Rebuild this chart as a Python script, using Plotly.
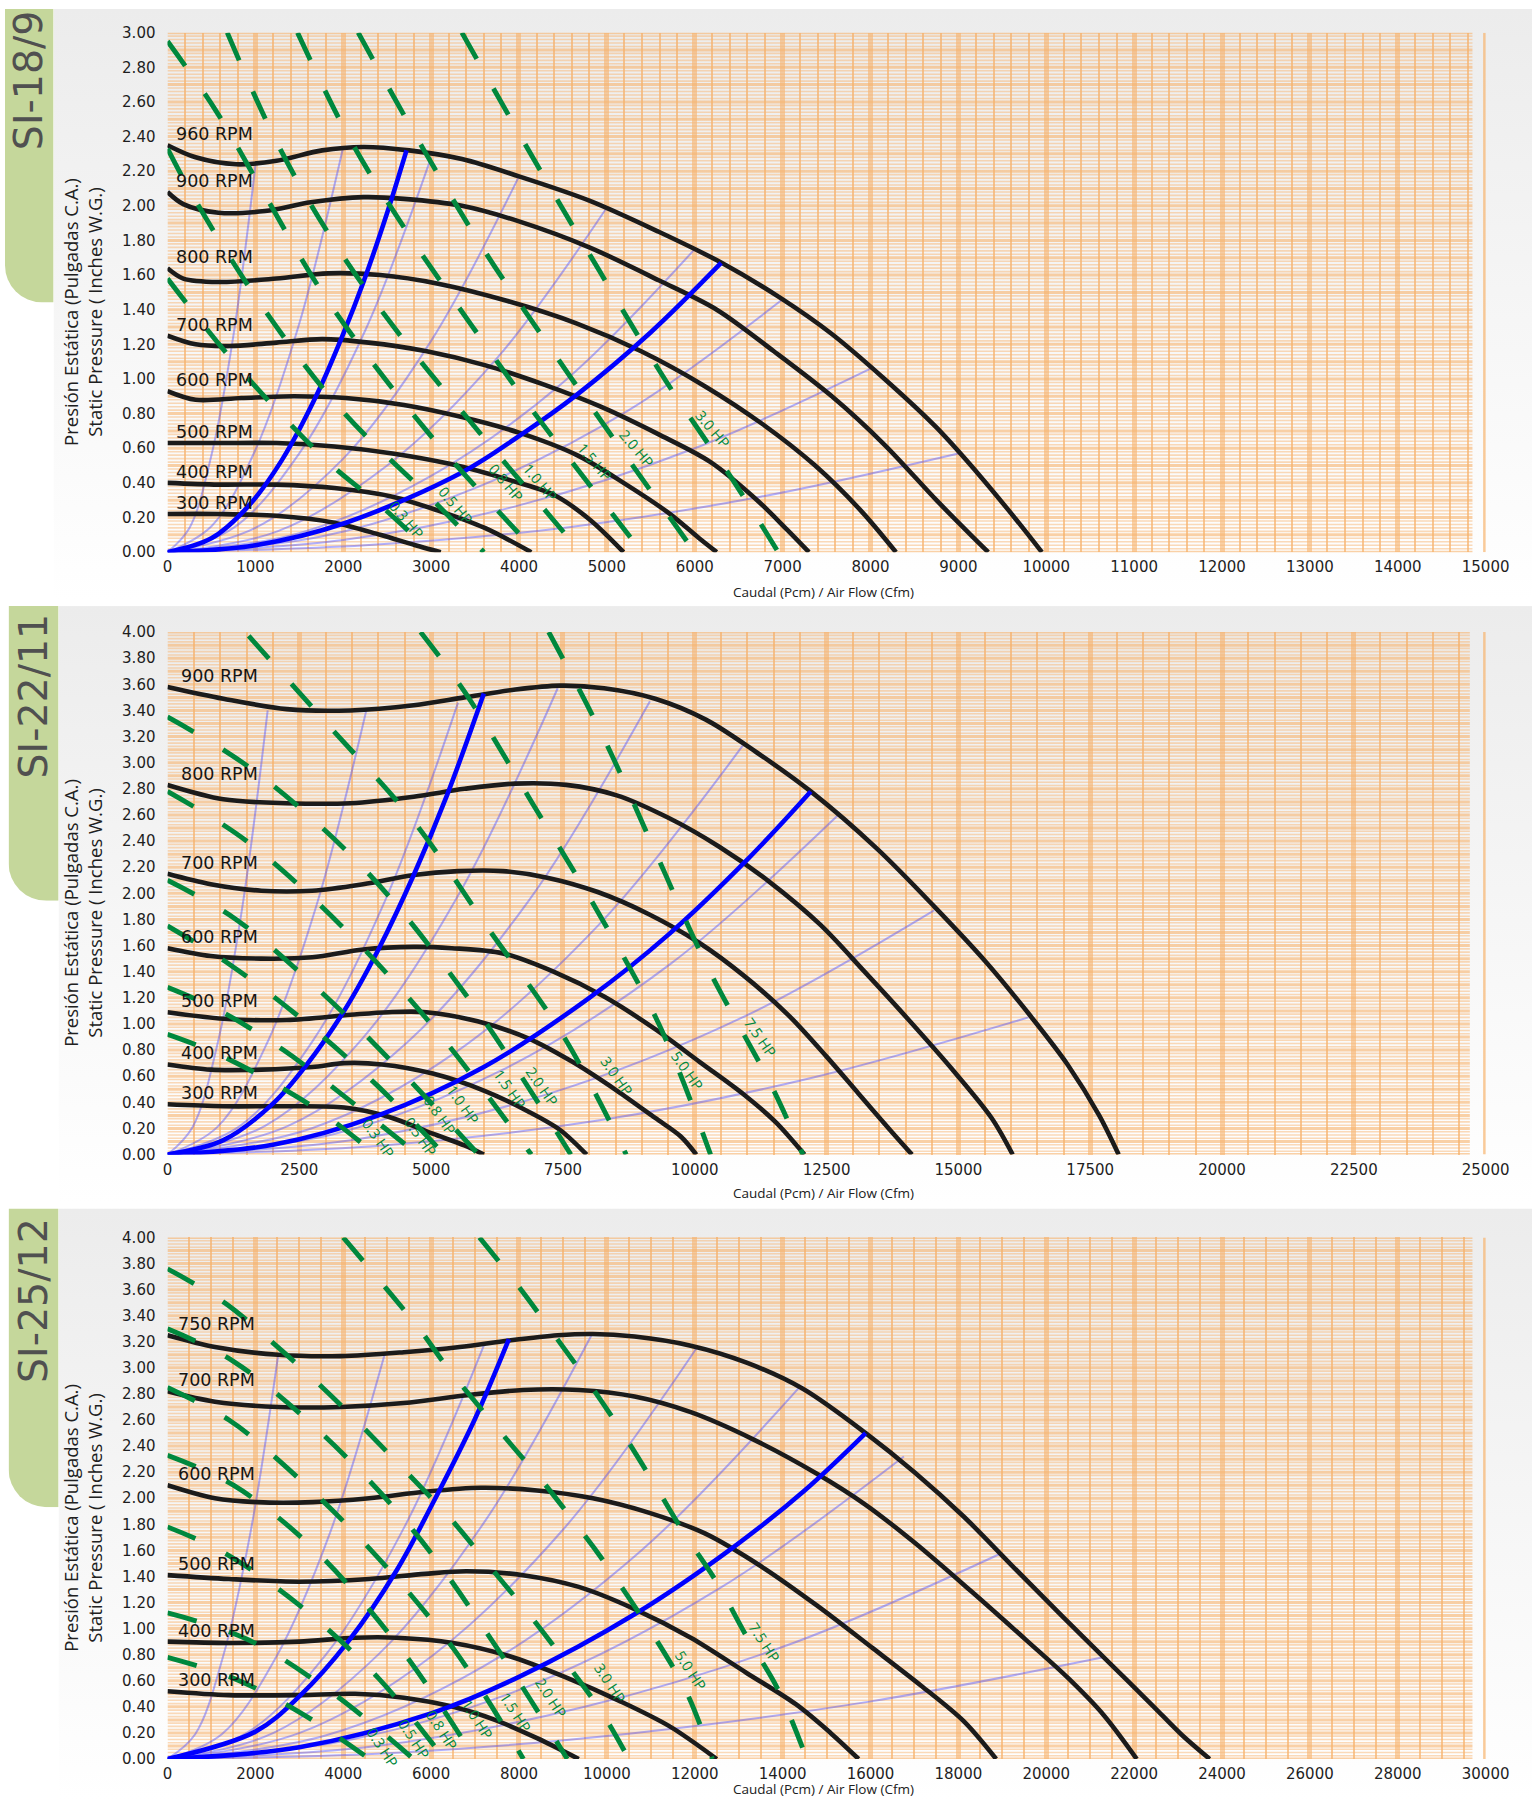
import base64
import math
import plotly.graph_objects as go

W, H = 1533, 1800          # target picture size
# The photographed page comes out slightly shrunk and offset; these factors map the
# wanted picture position to the figure pixel that lands there.
SX, BX = 0.982, 5.5
SY, BY = 0.991, 7.4
FW = int(math.ceil(W / SX - BX))
FH = int(math.ceil(H / SY - BY))

# ===================== DATA =====================
# ---------- Panel 1 : SI-18/9 ----------
S1_NAME = "SI-18/9"
S1_RPM_LABELS = ["960 RPM", "900 RPM", "800 RPM", "700 RPM", "600 RPM", "500 RPM", "400 RPM", "300 RPM"]
S1_RPM_Q = [
    [0, 320, 780, 1240, 1760, 2230, 2750, 3350, 4000, 4800, 5590, 6310, 6970, 7560, 8160, 8750, 9280, 9670, 9950],
    [0, 180, 580, 1110, 1630, 2230, 2690, 3350, 4000, 4800, 5590, 6250, 6900, 7560, 8160, 8750, 9140, 9340],
    [0, 180, 580, 1240, 1830, 2420, 3080, 3870, 4660, 5390, 6110, 6770, 7370, 7890, 8290],
    [0, 320, 710, 1240, 1760, 2290, 2950, 3610, 4270, 4930, 5590, 6180, 6710, 7050, 7300],
    [0, 320, 840, 1440, 2030, 2690, 3350, 4000, 4660, 5190, 5720, 6050, 6250],
    [0, 580, 1240, 1900, 2560, 3210, 3870, 4400, 4800, 5190],
    [0, 580, 1240, 1900, 2560, 3080, 3610, 4140],
    [0, 580, 1240, 1900, 2420, 2820, 3110],
]
S1_RPM_P = [
    [2.35, 2.28, 2.24, 2.26, 2.32, 2.34, 2.32, 2.27, 2.17, 2.03, 1.85, 1.67, 1.47, 1.26, 1.00, 0.72, 0.42, 0.18, 0.0],
    [2.08, 2.01, 1.96, 1.97, 2.02, 2.05, 2.04, 2.00, 1.91, 1.76, 1.57, 1.40, 1.16, 0.90, 0.62, 0.30, 0.10, 0.0],
    [1.64, 1.58, 1.56, 1.58, 1.61, 1.60, 1.55, 1.45, 1.32, 1.16, 0.96, 0.74, 0.50, 0.24, 0.0],
    [1.25, 1.20, 1.19, 1.21, 1.23, 1.21, 1.16, 1.08, 0.97, 0.84, 0.68, 0.52, 0.30, 0.13, 0.0],
    [0.93, 0.88, 0.89, 0.90, 0.89, 0.85, 0.78, 0.69, 0.56, 0.40, 0.22, 0.08, 0.0],
    [0.63, 0.63, 0.63, 0.61, 0.57, 0.51, 0.42, 0.33, 0.19, 0.0],
    [0.40, 0.39, 0.39, 0.37, 0.32, 0.24, 0.14, 0.0],
    [0.22, 0.22, 0.21, 0.17, 0.10, 0.04, 0.0],
]
S1_SYS_Q = [[0, 500, 910, 1300, 1700, 2000, 2230, 2500, 2720],
            [0, 1000, 2030, 3350, 4000, 4660, 5500, 6300]]
S1_SYS_P = [[0, 0.08, 0.26, 0.53, 0.91, 1.26, 1.56, 1.96, 2.32],
            [0, 0.04, 0.17, 0.46, 0.67, 0.91, 1.27, 1.67]]
S1_FAN_Q = [[0, 250, 500, 750, 1000], [0, 500, 1000, 1500, 2000], [0, 750, 1500, 2250, 3000],
            [0, 1000, 2000, 3000, 4000], [0, 1250, 2500, 3750, 5000], [0, 1500, 3000, 4500, 6000],
            [0, 1750, 3500, 5250, 7000], [0, 2000, 4000, 6000, 8000], [0, 2250, 4500, 6750, 9000]]
S1_FAN_P = [[0, 0.14, 0.56, 1.25, 2.23], [0, 0.15, 0.59, 1.32, 2.34], [0, 0.14, 0.57, 1.28, 2.28],
            [0, 0.14, 0.54, 1.22, 2.17], [0, 0.12, 0.50, 1.12, 1.99], [0, 0.11, 0.44, 0.98, 1.75],
            [0, 0.09, 0.37, 0.82, 1.46], [0, 0.07, 0.27, 0.60, 1.06], [0, 0.04, 0.14, 0.32, 0.57]]
S1_HP_LABELS = ["0.3 HP", "0.5 HP", "0.8 HP", "1.0 HP", "1.5 HP", "2.0 HP", "3.0 HP"]
S1_HP_Q = [[0, 820, 1830, 2400, 3000],
           [0, 330, 1090, 1980, 3020, 3600],
           [0, 550, 1100, 1800, 2950, 4200],
           [680, 1270, 1920, 2650, 3420, 4200, 4700],
           [1480, 2070, 2750, 3460, 4180, 4940, 5400],
           [2170, 2920, 3620, 4370, 5140, 6000],
           [3350, 4190, 4920, 5670, 6480, 6950]]
S1_HP_P = [[1.58, 1.06, 0.52, 0.28, 0.0],
           [2.33, 2.02, 1.41, 0.82, 0.30, 0.0],
           [2.95, 2.55, 2.07, 1.47, 0.70, 0.0],
           [3.0, 2.34, 1.77, 1.25, 0.77, 0.30, 0.0],
           [3.0, 2.39, 1.83, 1.31, 0.80, 0.30, 0.0],
           [3.0, 2.32, 1.73, 1.17, 0.61, 0.0],
           [3.0, 2.25, 1.62, 0.99, 0.38, 0.0]]

# ---------- Panel 2 : SI-22/11 ----------
S2_NAME = "SI-22/11"
S2_RPM_LABELS = ["900 RPM", "800 RPM", "700 RPM", "600 RPM", "500 RPM", "400 RPM", "300 RPM"]
S2_RPM_Q = [
    [0, 1060, 2260, 3470, 4670, 5630, 6600, 7440, 8280, 9250, 10210, 11170, 12200, 13460, 14540, 15510, 16350, 17070, 17670, 18040],
    [0, 1060, 2260, 3470, 4670, 5630, 6600, 7560, 8520, 9490, 10450, 11410, 12380, 13220, 14060, 14910, 15630, 16030],
    [0, 820, 1780, 2745, 3710, 4670, 5510, 6360, 7200, 8160, 9130, 10090, 10930, 11770, 12500, 13100, 13700, 14120],
    [0, 820, 1780, 2745, 3710, 4670, 5390, 6360, 7320, 8280, 9250, 10090, 10930, 11530, 12080],
    [0, 1060, 2260, 3470, 4190, 4910, 5880, 6840, 7680, 8520, 9250, 9730, 10030],
    [0, 820, 1780, 2745, 3350, 4070, 5030, 6000, 6840, 7440, 7950],
    [0, 1060, 2260, 3350, 4190, 5030, 5630, 6000],
]
S2_RPM_P = [
    [3.58, 3.49, 3.41, 3.40, 3.44, 3.50, 3.56, 3.59, 3.57, 3.49, 3.33, 3.08, 2.78, 2.34, 1.90, 1.48, 1.07, 0.69, 0.30, 0.0],
    [2.83, 2.72, 2.69, 2.69, 2.74, 2.80, 2.84, 2.83, 2.75, 2.58, 2.36, 2.09, 1.76, 1.40, 1.03, 0.64, 0.28, 0.0],
    [2.15, 2.07, 2.02, 2.02, 2.07, 2.14, 2.17, 2.17, 2.12, 2.01, 1.84, 1.62, 1.37, 1.07, 0.75, 0.47, 0.19, 0.0],
    [1.58, 1.52, 1.50, 1.51, 1.57, 1.59, 1.58, 1.54, 1.40, 1.21, 0.96, 0.71, 0.46, 0.25, 0.0],
    [1.09, 1.04, 1.03, 1.07, 1.09, 1.09, 1.02, 0.89, 0.71, 0.49, 0.28, 0.14, 0.0],
    [0.69, 0.65, 0.65, 0.67, 0.70, 0.69, 0.62, 0.49, 0.33, 0.19, 0.0],
    [0.385, 0.37, 0.37, 0.36, 0.29, 0.16, 0.07, 0.0],
]
S2_SYS_Q = [[0, 1060, 2000, 2625, 3350, 4000, 4670, 5300, 6000],
            [0, 2000, 4000, 6000, 8000, 9490, 11000, 12200]]
S2_SYS_P = [[0, 0.11, 0.39, 0.68, 1.10, 1.57, 2.14, 2.75, 3.53],
            [0, 0.075, 0.30, 0.67, 1.20, 1.68, 2.26, 2.78]]
S2_FAN_Q = [[0, 475, 950, 1425, 1900], [0, 943, 1885, 2828, 3770], [0, 1378, 2755, 4133, 5510],
            [0, 1850, 3700, 5550, 7400], [0, 2288, 4575, 6863, 9150], [0, 2728, 5455, 8183, 10910],
            [0, 3180, 6360, 9540, 12720], [0, 3635, 7270, 10905, 14540], [0, 4083, 8165, 12248, 16330]]
S2_FAN_P = [[0, 0.21, 0.85, 1.91, 3.40], [0, 0.21, 0.85, 1.91, 3.40], [0, 0.22, 0.87, 1.95, 3.46],
            [0, 0.22, 0.89, 2.01, 3.57], [0, 0.22, 0.87, 1.95, 3.47], [0, 0.20, 0.78, 1.76, 3.13],
            [0, 0.16, 0.65, 1.46, 2.60], [0, 0.12, 0.47, 1.05, 1.87], [0, 0.07, 0.26, 0.59, 1.05]]
S2_HP_LABELS = ["0.3 HP", "0.5 HP", "0.8 HP", "1.0 HP", "1.5 HP", "2.0 HP", "3.0 HP", "5.0 HP", "7.5 HP"]
S2_HP_Q = [[0, 900, 2000, 3000, 3950],
           [0, 1000, 2200, 3500, 4750],
           [0, 1200, 2600, 4000, 5250],
           [0, 1300, 2900, 4400, 5900],
           [0, 1500, 3300, 5100, 6900],
           [0, 1600, 3700, 5700, 7650],
           [1540, 3000, 4670, 6050, 7520, 8700],
           [4800, 5640, 6920, 8130, 9330, 10300],
           [7230, 8260, 9250, 10250, 11450, 12050]]
S2_HP_P = [[0.92, 0.78, 0.55, 0.30, 0.0],
           [1.28, 1.10, 0.80, 0.40, 0.0],
           [1.75, 1.45, 1.02, 0.52, 0.0],
           [2.10, 1.80, 1.25, 0.65, 0.0],
           [2.78, 2.40, 1.75, 0.95, 0.0],
           [3.35, 2.95, 2.20, 1.20, 0.0],
           [3.97, 3.31, 2.55, 1.75, 0.90, 0.0],
           [4.0, 3.54, 2.69, 1.88, 0.99, 0.0],
           [4.0, 3.20, 2.32, 1.43, 0.53, 0.0]]

# ---------- Panel 3 : SI-25/12 ----------
S3_NAME = "SI-25/12"
S3_RPM_LABELS = ["750 RPM", "700 RPM", "600 RPM", "500 RPM", "400 RPM", "300 RPM"]
S3_RPM_Q = [
    [0, 1080, 2520, 3950, 5380, 6650, 7770, 8880, 9680, 10630, 11910, 13180, 14460, 15890, 17000, 18120, 19230, 20350, 21460, 22420, 23100, 23720],
    [0, 1080, 2520, 3950, 5380, 6810, 8090, 9360, 10630, 11910, 13340, 14770, 15890, 17000, 18280, 19550, 20500, 21300, 22060],
    [0, 1080, 2040, 3310, 4590, 5860, 7130, 8410, 9680, 10950, 12230, 13500, 14770, 16050, 17160, 18120, 18860],
    [0, 1400, 2990, 4590, 5860, 6810, 8090, 9360, 10630, 11910, 13180, 14300, 15090, 15730],
    [0, 1400, 2990, 4270, 5220, 6500, 7770, 9040, 10320, 11430, 12500],
    [0, 1400, 2990, 4270, 5380, 6500, 7450, 8410, 9360],
]
S3_RPM_P = [
    [3.25, 3.16, 3.10, 3.09, 3.12, 3.16, 3.21, 3.25, 3.26, 3.24, 3.17, 3.04, 2.84, 2.50, 2.20, 1.86, 1.48, 1.10, 0.73, 0.41, 0.18, 0.0],
    [2.82, 2.74, 2.70, 2.70, 2.73, 2.79, 2.83, 2.83, 2.78, 2.66, 2.45, 2.19, 1.95, 1.66, 1.29, 0.91, 0.62, 0.34, 0.0],
    [2.10, 2.00, 1.97, 1.97, 2.00, 2.05, 2.08, 2.06, 2.00, 1.89, 1.73, 1.48, 1.18, 0.85, 0.56, 0.29, 0.0],
    [1.41, 1.38, 1.36, 1.38, 1.42, 1.44, 1.41, 1.32, 1.15, 0.93, 0.66, 0.42, 0.20, 0.0],
    [0.90, 0.89, 0.90, 0.93, 0.93, 0.89, 0.79, 0.63, 0.44, 0.25, 0.0],
    [0.52, 0.49, 0.49, 0.50, 0.47, 0.40, 0.30, 0.16, 0.0],
]
S3_SYS_Q = [[0, 2000, 3000, 4110, 5220, 6020, 7000, 7770],
            [0, 3000, 6000, 8000, 10630, 12860, 14500, 15890]]
S3_SYS_P = [[0, 0.21, 0.48, 0.90, 1.45, 1.95, 2.61, 3.22],
            [0, 0.09, 0.35, 0.63, 1.11, 1.62, 2.06, 2.50]]
S3_FAN_Q = [[0, 630, 1260, 1890, 2520], [0, 1235, 2470, 3705, 4940], [0, 1803, 3605, 5408, 7210],
            [0, 2413, 4825, 7238, 9650], [0, 3010, 6020, 9030, 12040], [0, 3595, 7190, 10785, 14380],
            [0, 4190, 8380, 12570, 16760], [0, 4748, 9495, 14243, 18990], [0, 5325, 10650, 15975, 21300]]
S3_FAN_P = [[0, 0.19, 0.78, 1.74, 3.10], [0, 0.19, 0.78, 1.74, 3.10], [0, 0.20, 0.80, 1.79, 3.18],
            [0, 0.20, 0.81, 1.83, 3.25], [0, 0.20, 0.79, 1.77, 3.15], [0, 0.18, 0.71, 1.60, 2.85],
            [0, 0.15, 0.58, 1.31, 2.32], [0, 0.10, 0.40, 0.89, 1.58], [0, 0.05, 0.20, 0.44, 0.78]]
S3_HP_LABELS = ["0.3 HP", "0.5 HP", "0.8 HP", "1.0 HP", "1.5 HP", "2.0 HP", "3.0 HP", "5.0 HP", "7.5 HP"]
S3_HP_Q = [[0, 1500, 3000, 4600],
           [0, 1800, 3700, 5600],
           [0, 1300, 3000, 4800, 6300],
           [0, 1500, 3300, 5300, 7000],
           [0, 1400, 2500, 4500, 6500, 8100],
           [0, 1500, 3500, 5600, 7500, 9100],
           [0, 1300, 2300, 3430, 4430, 5440, 6500, 7400, 8300, 9200, 9900, 10500],
           [4000, 5000, 5730, 6400, 7800, 8510, 9230, 9900, 11150, 11830, 12400],
           [7100, 8000, 8830, 9600, 10340, 11060, 11760, 12510, 13180, 13900, 14550]]
S3_HP_P = [[0.78, 0.62, 0.36, 0.0],
           [1.12, 0.92, 0.52, 0.0],
           [1.78, 1.58, 1.18, 0.62, 0.0],
           [2.33, 2.10, 1.62, 0.85, 0.0],
           [2.85, 2.60, 2.30, 1.65, 0.85, 0.0],
           [3.30, 3.05, 2.50, 1.75, 0.85, 0.0],
           [3.76, 3.50, 3.22, 2.88, 2.55, 2.20, 1.82, 1.45, 1.08, 0.68, 0.35, 0.0],
           [4.0, 3.60, 3.30, 2.99, 2.42, 2.14, 1.83, 1.53, 0.90, 0.50, 0.0],
           [4.0, 3.62, 3.24, 2.88, 2.51, 2.12, 1.73, 1.35, 0.94, 0.53, 0.0]]

# ===================== PLACEMENT / STYLE (picture pixels) =====================
S1_HP_LPOS = [(2720, 0.19), (3280, 0.27), (3850, 0.40), (4240, 0.40), (4870, 0.52), (5340, 0.60), (6210, 0.71)]
S2_HP_LPOS = [(4000, 0.12), (4800, 0.14), (5170, 0.30), (5600, 0.38), (6500, 0.50), (7100, 0.52), (8530, 0.60), (9850, 0.64), (11250, 0.90)]
S3_HP_LPOS = [(4900, 0.09), (5620, 0.15), (6250, 0.22), (7050, 0.30), (7930, 0.36), (8720, 0.47), (10080, 0.58), (11910, 0.68), (13580, 0.89)]

PANELS = [
    dict(name=S1_NAME, rl=S1_RPM_LABELS, rq=S1_RPM_Q, rp=S1_RPM_P, sq=S1_SYS_Q, sp=S1_SYS_P,
         fq=S1_FAN_Q, fp=S1_FAN_P, hl=S1_HP_LABELS, hq=S1_HP_Q, hp=S1_HP_P, lpos=S1_HP_LPOS, lang=50,
         xmax=15000, dtick=1000, minor=200, ymax=3.0, edge=14850, ystep=0.02, ymaj=5,
         top=31, bot=551, ptop=3, pbot=600, pleft=54, tab=(5, 54, 3, 301), tabtxt=(28, 79), lblx=7, xt=591),
    dict(name=S2_NAME, rl=S2_RPM_LABELS, rq=S2_RPM_Q, rp=S2_RPM_P, sq=S2_SYS_Q, sp=S2_SYS_P,
         fq=S2_FAN_Q, fp=S2_FAN_P, hl=S2_HP_LABELS, hq=S2_HP_Q, hp=S2_HP_P, lpos=S2_HP_LPOS, lang=55,
         xmax=25000, dtick=2500, minor=500, ymax=4.0, edge=24700, ystep=0.025, ymaj=4,
         top=631, bot=1154, ptop=605, pbot=1203, pleft=59, tab=(9, 59, 605, 900), tabtxt=(33, 695), lblx=12, xt=1192),
    dict(name=S3_NAME, rl=S3_RPM_LABELS, rq=S3_RPM_Q, rp=S3_RPM_P, sq=S3_SYS_Q, sp=S3_SYS_P,
         fq=S3_FAN_Q, fp=S3_FAN_P, hl=S3_HP_LABELS, hq=S3_HP_Q, hp=S3_HP_P, lpos=S3_HP_LPOS, lang=57,
         xmax=30000, dtick=2000, minor=500, ymax=4.0, edge=29700, ystep=0.025, ymaj=4,
         top=1237, bot=1759, ptop=1208, pbot=1800, pleft=59, tab=(9, 59, 1208, 1507), tabtxt=(34, 1300), lblx=9, xt=1789),
]

X0, X1 = 168, 1487
BLACK = "#1b1b1b"
BLUE = "#0000ff"
FAN = "rgba(70,70,255,0.42)"
GREEN = "#00883d"
GRID_MAJ = "rgba(246,172,95,0.55)"
GRID_MIN = "rgba(246,166,85,0.62)"
HGRID = "rgba(247,182,115,0.5)"
HGRID_MAJ = "rgba(247,178,108,0.6)"
TICKFONT = dict(family="DejaVu Sans", size=15, color="#1e1e1e")


def fx(v):
    return v / SX - BX


def fy(v):
    return v / SY - BY


def px_x(v):
    return min(1.0, max(0.0, fx(v) / FW))


def px_y(v):
    return min(1.0, max(0.0, 1 - fy(v) / FH))


def svg_uri(svg):
    return "data:image/svg+xml;base64," + base64.b64encode(svg.encode("utf-8")).decode("ascii")


fig = go.Figure()
images = []
annotations = []
layout_axes = {}

for i, pn in enumerate(PANELS):
    n = "" if i == 0 else str(i + 1)
    xa, ya = "x" + n, "y" + n

    # background gradient panel
    grad = ('<svg xmlns="http://www.w3.org/2000/svg" width="100" height="100" viewBox="0 0 100 100" '
            'preserveAspectRatio="none"><defs><linearGradient id="g" x1="0" y1="0" x2="0" y2="1">'
            '<stop offset="0" stop-color="#ececec"/><stop offset="1" stop-color="#ffffff"/>'
            '</linearGradient></defs><rect x="0" y="0" width="100" height="100" fill="url(#g)"/></svg>')
    gx0, gy0, gx1, gy1 = px_x(pn["pleft"]), px_y(pn["ptop"]), 1.0, px_y(pn["pbot"])
    images.append(dict(source=svg_uri(grad), xref="paper", yref="paper", x=gx0, y=gy0,
                       sizex=gx1 - gx0, sizey=gy0 - gy1,
                       xanchor="left", yanchor="top", sizing="stretch", layer="below"))
    # green tab with rounded bottom-left corner
    tx0, tx1, ty0, ty1 = pn["tab"]
    ax0, ay0, ax1, ay1 = px_x(tx0), px_y(ty0), px_x(tx1), px_y(ty1)
    tw, th, r = 100, 600, 76
    tab = (f'<svg xmlns="http://www.w3.org/2000/svg" width="{tw}" height="{th}" viewBox="0 0 {tw} {th}" '
           f'preserveAspectRatio="none"><path d="M0 0 H{tw} V{th} H{r} A{r} {r} 0 0 1 0 {th - r} Z" '
           f'fill="#c5d79b"/></svg>')
    images.append(dict(source=svg_uri(tab), xref="paper", yref="paper",
                       x=ax0, y=ay0, sizex=ax1 - ax0, sizey=ay0 - ay1,
                       xanchor="left", yanchor="top", sizing="stretch", layer="below"))
    annotations.append(dict(text=pn["name"], xref="paper", yref="paper",
                            x=px_x(pn["tabtxt"][0]), y=px_y(pn["tabtxt"][1]), textangle=-90,
                            showarrow=False, xanchor="center", yanchor="middle",
                            font=dict(family="DejaVu Sans", size=39.5, color="#505050")))

    # horizontal grid (ends before the right-hand bar, as in the original)
    nlines = int(round(pn["ymax"] / pn["ystep"]))
    gx_min, gy_min, gx_maj, gy_maj = [], [], [], []
    for k in range(nlines + 1):
        v = k * pn["ystep"]
        if k % pn["ymaj"] == 0:
            gx_maj += [0, pn["edge"], None]
            gy_maj += [v, v, None]
        else:
            gx_min += [0, pn["edge"], None]
            gy_min += [v, v, None]
    fig.add_trace(go.Scatter(x=gx_min, y=gy_min, mode="lines", line=dict(color=HGRID, width=1.6),
                             xaxis=xa, yaxis=ya, hoverinfo="skip", showlegend=False))
    fig.add_trace(go.Scatter(x=gx_maj, y=gy_maj, mode="lines", line=dict(color=HGRID_MAJ, width=3),
                             xaxis=xa, yaxis=ya, hoverinfo="skip", showlegend=False))

    # fan-law lines (light purple)
    for q, p in zip(pn["fq"], pn["fp"]):
        fig.add_trace(go.Scatter(x=q, y=p, mode="lines", line=dict(color=FAN, width=2, shape="spline"),
                                 xaxis=xa, yaxis=ya, hoverinfo="skip", showlegend=False))
    # RPM curves
    for lab, q, p in zip(pn["rl"], pn["rq"], pn["rp"]):
        fig.add_trace(go.Scatter(x=q, y=p, mode="lines", name=lab,
                                 line=dict(color=BLACK, width=4.6, shape="spline", smoothing=0.9),
                                 xaxis=xa, yaxis=ya, showlegend=False))
        annotations.append(dict(text=lab, xref=xa, yref=ya, x=0, y=p[0], xanchor="left", yanchor="bottom",
                                xshift=pn["lblx"], yshift=-1, showarrow=False,
                                font=dict(family="DejaVu Sans", size=17.5, color="#151515")))
    # system curves (blue)
    for q, p in zip(pn["sq"], pn["sp"]):
        fig.add_trace(go.Scatter(x=q, y=p, mode="lines", line=dict(color=BLUE, width=4.6, shape="spline"),
                                 xaxis=xa, yaxis=ya, hoverinfo="skip", showlegend=False))
    # HP curves (green dashed)
    for lab, q, p, pos in zip(pn["hl"], pn["hq"], pn["hp"], pn["lpos"]):
        fig.add_trace(go.Scatter(x=q, y=p, mode="lines", name=lab,
                                 line=dict(color=GREEN, width=4.9, dash="30px,34px", shape="spline"),
                                 xaxis=xa, yaxis=ya, showlegend=False))
        annotations.append(dict(text=lab, xref=xa, yref=ya, x=pos[0], y=pos[1], textangle=pn["lang"],
                                showarrow=False, xanchor="center", yanchor="middle",
                                font=dict(family="Open Sans", size=14.5, color=GREEN)))

    # right-hand bar at the end of the scale
    fig.add_shape(type="line", xref=xa, yref=ya, x0=pn["xmax"], x1=pn["xmax"], y0=0, y1=pn["ymax"],
                  line=dict(color="rgba(246,180,110,0.7)", width=5), layer="below")

    # axis titles
    annotations.append(dict(text="Caudal (Pcm) / Air Flow (Cfm)", xref="paper", yref="paper",
                            x=px_x(824), y=px_y(pn["xt"]), showarrow=False,
                            xanchor="center", yanchor="middle",
                            font=dict(family="Liberation Sans Narrow, Open Sans", size=13.5, color="#202020")))
    annotations.append(dict(text="Presión Estática (Pulgadas C.A.)<br>Static Pressure ( Inches W.G.)",
                            xref="paper", yref="paper", x=px_x(83), y=px_y((pn["top"] + pn["bot"]) / 2 + 20),
                            textangle=-90, showarrow=False, xanchor="center", yanchor="middle",
                            font=dict(family="Liberation Sans Narrow, Open Sans", size=18.5, color="#202020")))

    layout_axes["xaxis" + n] = dict(
        domain=[px_x(X0), px_x(X1)], range=[0, pn["xmax"]], anchor=ya,
        tickmode="linear", tick0=0, dtick=pn["dtick"], tickformat="d",
        showgrid=True, gridcolor=GRID_MAJ, gridwidth=5,
        minor=dict(tick0=0, dtick=pn["minor"], showgrid=True, gridcolor=GRID_MIN, gridwidth=2.2),
        zeroline=False, showline=False, ticks="outside", ticklen=1, tickcolor="rgba(0,0,0,0)",
        tickfont=TICKFONT, fixedrange=True)
    layout_axes["yaxis" + n] = dict(
        domain=[px_y(pn["bot"]), px_y(pn["top"])], range=[0, pn["ymax"]], anchor=xa,
        tickmode="linear", tick0=0, dtick=0.2, tickformat=".2f",
        showgrid=False, zeroline=False, showline=False, ticks="outside", ticklen=8,
        tickcolor="rgba(0,0,0,0)", tickfont=TICKFONT, fixedrange=True)

fig.update_layout(
    width=FW, height=FH, autosize=False, margin=dict(l=0, r=0, t=0, b=0),
    paper_bgcolor="#ffffff", plot_bgcolor="rgba(0,0,0,0)",
    showlegend=False, images=images, annotations=annotations, **layout_axes)

# pin the figure to the window's top-left corner so the page never scrolls
PIN = ("var d=document.getElementById('{plot_id}');"
       "var h=document.documentElement,b=document.body;"
       "h.style.margin='0';h.style.padding='0';h.style.overflow='hidden';"
       "b.style.margin='0';b.style.padding='0';b.style.overflow='hidden';"
       "d.style.position='fixed';d.style.left='0px';d.style.top='0px';")

fig.write_html("out.html", config={"displayModeBar": False, "responsive": False}, post_script=PIN)
